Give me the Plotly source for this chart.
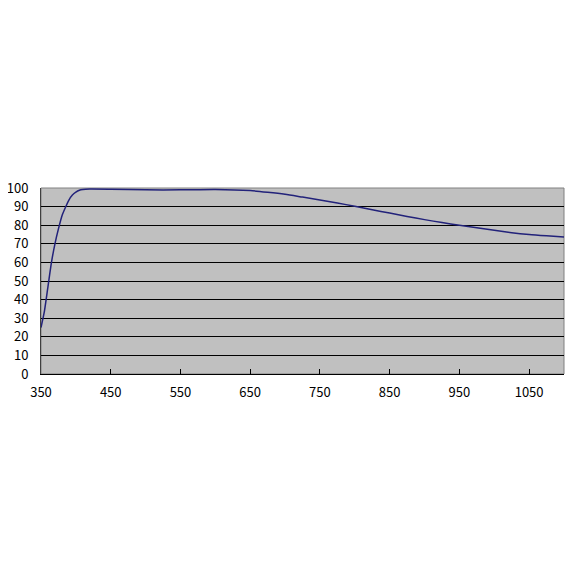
import plotly.graph_objects as go

wavelength = [350, 355, 360, 365, 370, 375, 380, 385, 390, 395, 400, 405, 410, 420,
              450, 500, 550, 600, 650, 675, 700, 725, 750, 775, 800, 825, 850, 875,
              900, 925, 950, 975, 1000, 1025, 1050, 1075, 1100]
transmission = [25, 34, 47, 60, 70, 78, 85, 89.5, 93.5, 96.2, 97.8, 98.8, 99.2, 99.4,
                99.3, 99.0, 99.0, 99.2, 98.6, 97.7, 96.6, 95.1, 93.6, 91.9, 90.2, 88.3,
                86.5, 84.7, 83.0, 81.4, 80.0, 78.6, 77.3, 76.0, 75.0, 74.3, 73.7]

x_ticks = [350, 450, 550, 650, 750, 850, 950, 1050]
y_ticks = [0, 10, 20, 30, 40, 50, 60, 70, 80, 90, 100]

fig = go.Figure()
fig.add_trace(go.Scatter(x=wavelength, y=transmission, mode="lines",
                         line=dict(color="#22227a", width=1.5, shape="spline", smoothing=0.6),
                         showlegend=False, hoverinfo="skip"))

fig.update_layout(
    width=571, height=571,
    margin=dict(l=33, r=15, t=180, b=205, autoexpand=False),
    paper_bgcolor="white", plot_bgcolor="#c0c0c0",
    font=dict(family="Noto Sans CJK JP, DejaVu Sans", size=13, color="black"),
    xaxis=dict(range=[350, 1100], tickvals=x_ticks, ticktext=[str(v) for v in x_ticks],
               showgrid=False, zeroline=False, showline=True, linecolor="black", linewidth=1,
               ticks="inside", ticklen=5, tickcolor="black", tickwidth=1,
               tickfont=dict(size=13), ticklabelstandoff=6, automargin=False),
    yaxis=dict(range=[0, 100], tickvals=y_ticks, showgrid=True, gridcolor="black", gridwidth=1,
               zeroline=False, showline=True, linecolor="#404040", linewidth=1,
               ticks="", tickfont=dict(size=13), ticklabelstandoff=9, automargin=False),
    shapes=[dict(type="rect", xref="paper", yref="paper", x0=0, x1=1, y0=0, y1=1,
                 line=dict(color="#808080", width=1), layer="below")],
)

fig.write_html("out.html")
